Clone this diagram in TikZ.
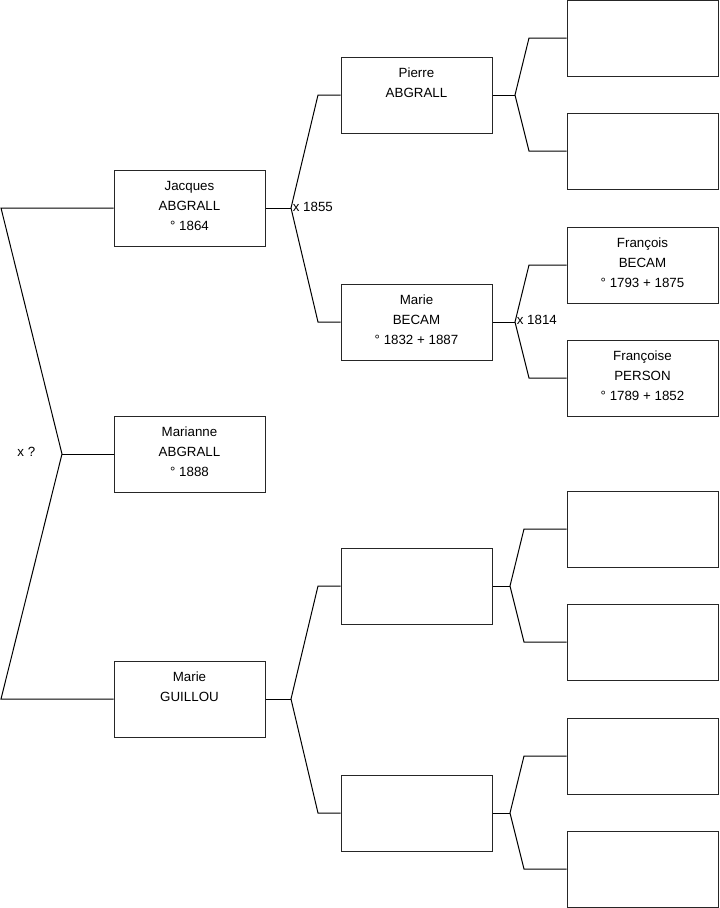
\documentclass[tikz,border=0pt]{standalone}
\usepackage{fontspec}
\setmainfont{Liberation Sans}
\usepackage{tikz}
\usetikzlibrary{calc, positioning}

% text of one card, set from the top of the box
\newcommand{\fiche}[1]{\parbox[t][57pt][t]{113pt}{\fontsize{10}{15}\selectfont\centering
  \vspace*{5pt}\strut #1}}

\begin{document}
\begin{tikzpicture}[x=0.75pt, y=-0.75pt, line width=0.75pt,
  person/.style={draw=black!85, inner sep=0pt, minimum width=113.25pt, minimum height=57pt},
  union/.style={anchor=west, inner sep=1pt, font=\fontsize{10}{12}\selectfont}]
\useasboundingbox (0,0) rectangle (719,908);

% Generation 1
\node[person] (jacques) at (189.5,208) {\fiche{Jacques\\ABGRALL\\° 1864}};
\node[person] (marianne) at (189.5,454) {\fiche{Marianne\\ABGRALL\\° 1888}};
\node[person] (guillou) at (189.5,699) {\fiche{Marie\\GUILLOU}};

% Generation 2
\node[person] (pierre) at (416.5,95) {\fiche{Pierre\\ABGRALL}};
\node[person] (becam) at (416.5,322) {\fiche{Marie\\BECAM\\° 1832 + 1887}};
\node[person] (gp3) at (416.5,586) {};
\node[person] (gp4) at (416.5,813) {};

% Generation 3
\node[person] (ggp1) at (642.5,38) {};
\node[person] (ggp2) at (642.5,151) {};
\node[person] (francois) at (642.5,265) {\fiche{François\\BECAM\\° 1793 + 1875}};
\node[person] (francoise) at (642.5,378) {\fiche{Françoise\\PERSON\\° 1789 + 1852}};
\node[person] (ggp5) at (642.5,529) {};
\node[person] (ggp6) at (642.5,642) {};
\node[person] (ggp7) at (642.5,756) {};
\node[person] (ggp8) at (642.5,869) {};

% Fork points and branch columns
\coordinate (k0) at (62,454);
\coordinate (k1) at (291,208);
\coordinate (k2) at (515,95);
\coordinate (k3) at (515,322);
\coordinate (k4) at (291,699);
\coordinate (k5) at (510,586);
\coordinate (k6) at (510,813);
\coordinate (e0) at (1,0);
\coordinate (e1) at (318,0);
\coordinate (e2) at (529,0);
\coordinate (e3) at (524,0);

% Parents of Marianne
\draw (jacques.west) -- (jacques.west -| e0) -- (k0) -- (guillou.west -| e0) -- (guillou.west);
\draw (k0) -- (marianne.west);
\node[union, inner sep=0pt] (m0) at (17,452) {x ?};

% Parents of Jacques
\draw (jacques.east) -- (k1);
\draw (pierre.west) -- (pierre.west -| e1) -- (k1) -- (becam.west -| e1) -- (becam.west);
\node[union] (m1) at ($(k1)+(0,-1)$) {x 1855};

% Parents of Pierre
\draw (pierre.east) -- (k2);
\draw (ggp1.west) -- (ggp1.west -| e2) -- (k2) -- (ggp2.west -| e2) -- (ggp2.west);

% Parents of Marie BECAM
\draw (becam.east) -- (k3);
\draw (francois.west) -- (francois.west -| e2) -- (k3) -- (francoise.west -| e2) -- (francoise.west);
\node[union] (m3) at ($(k3)+(0,-2)$) {x 1814};

% Parents of Marie GUILLOU
\draw (guillou.east) -- (k4);
\draw (gp3.west) -- (gp3.west -| e1) -- (k4) -- (gp4.west -| e1) -- (gp4.west);

% Further forks
\draw (gp3.east) -- (k5);
\draw (ggp5.west) -- (ggp5.west -| e3) -- (k5) -- (ggp6.west -| e3) -- (ggp6.west);
\draw (gp4.east) -- (k6);
\draw (ggp7.west) -- (ggp7.west -| e3) -- (k6) -- (ggp8.west -| e3) -- (ggp8.west);
\end{tikzpicture}
\end{document}
